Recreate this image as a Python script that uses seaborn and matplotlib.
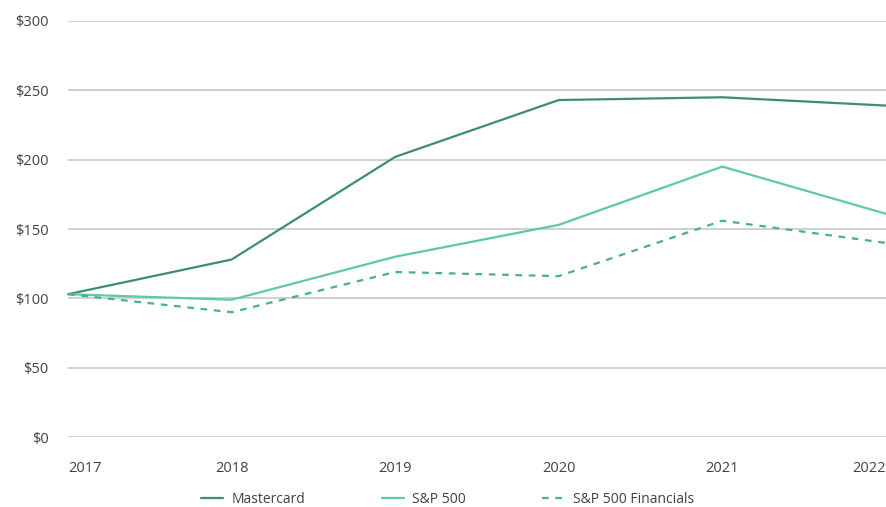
import seaborn as sns
import pandas as pd
import matplotlib.pyplot as plt

years = [2017, 2018, 2019, 2020, 2021, 2022]
mastercard = [103, 128, 202, 243, 245, 239]
sp500 = [103, 99, 130, 153, 195, 161]
sp500_fin = [103, 90, 119, 116, 156, 140]
yticks = [0, 50, 100, 150, 200, 250, 300]

df = pd.DataFrame({"year": years * 3,
                   "value": mastercard + sp500 + sp500_fin,
                   "series": ["Mastercard"] * 6 + ["S&P 500"] * 6 + ["S&P 500 Financials"] * 6})

sns.set_style("white")
plt.rcParams["font.family"] = ["Open Sans", "DejaVu Sans"]

fig = plt.figure(figsize=(8.87, 5.07), dpi=100)
ax = fig.add_axes([0.0767, 0.138, 0.922, 0.8206])

palette = {"Mastercard": "#3c8e70", "S&P 500": "#5ccaa4", "S&P 500 Financials": "#48b08c"}
sns.lineplot(data=df, x="year", y="value", hue="series", style="series",
             palette=palette, dashes={"Mastercard": "", "S&P 500": "", "S&P 500 Financials": (3, 3)},
             linewidth=1.6, ax=ax, clip_on=False)

ax.set_ylim(0, 300)
ax.set_xlim(2017, 2021.95)
ax.set_yticks(yticks)
ax.set_yticklabels([f"${v}" for v in yticks])
ax.set_xticks(years)
ax.set_xticklabels([str(y) for y in years])
labels = ax.get_xticklabels()
labels[0].set_ha("left")
labels[-1].set_ha("right")
ax.tick_params(axis="both", length=0, labelsize=10.5, labelcolor="#404040")
ax.tick_params(axis="x", pad=17)
ax.tick_params(axis="y", pad=14)
ax.grid(axis="y", color="#c4c4c4", linewidth=1.1)
ax.set_axisbelow(True)
for s in ax.spines.values():
    s.set_visible(False)
ax.set_xlabel("")
ax.set_ylabel("")

ax.legend(loc="center", bbox_to_anchor=(0.464, -0.151), ncol=3, frameon=False,
          handlelength=1.6, handletextpad=0.6, columnspacing=5.5, fontsize=10,
          labelcolor="#404040", borderpad=0)

fig.savefig("out.png", dpi=100)
